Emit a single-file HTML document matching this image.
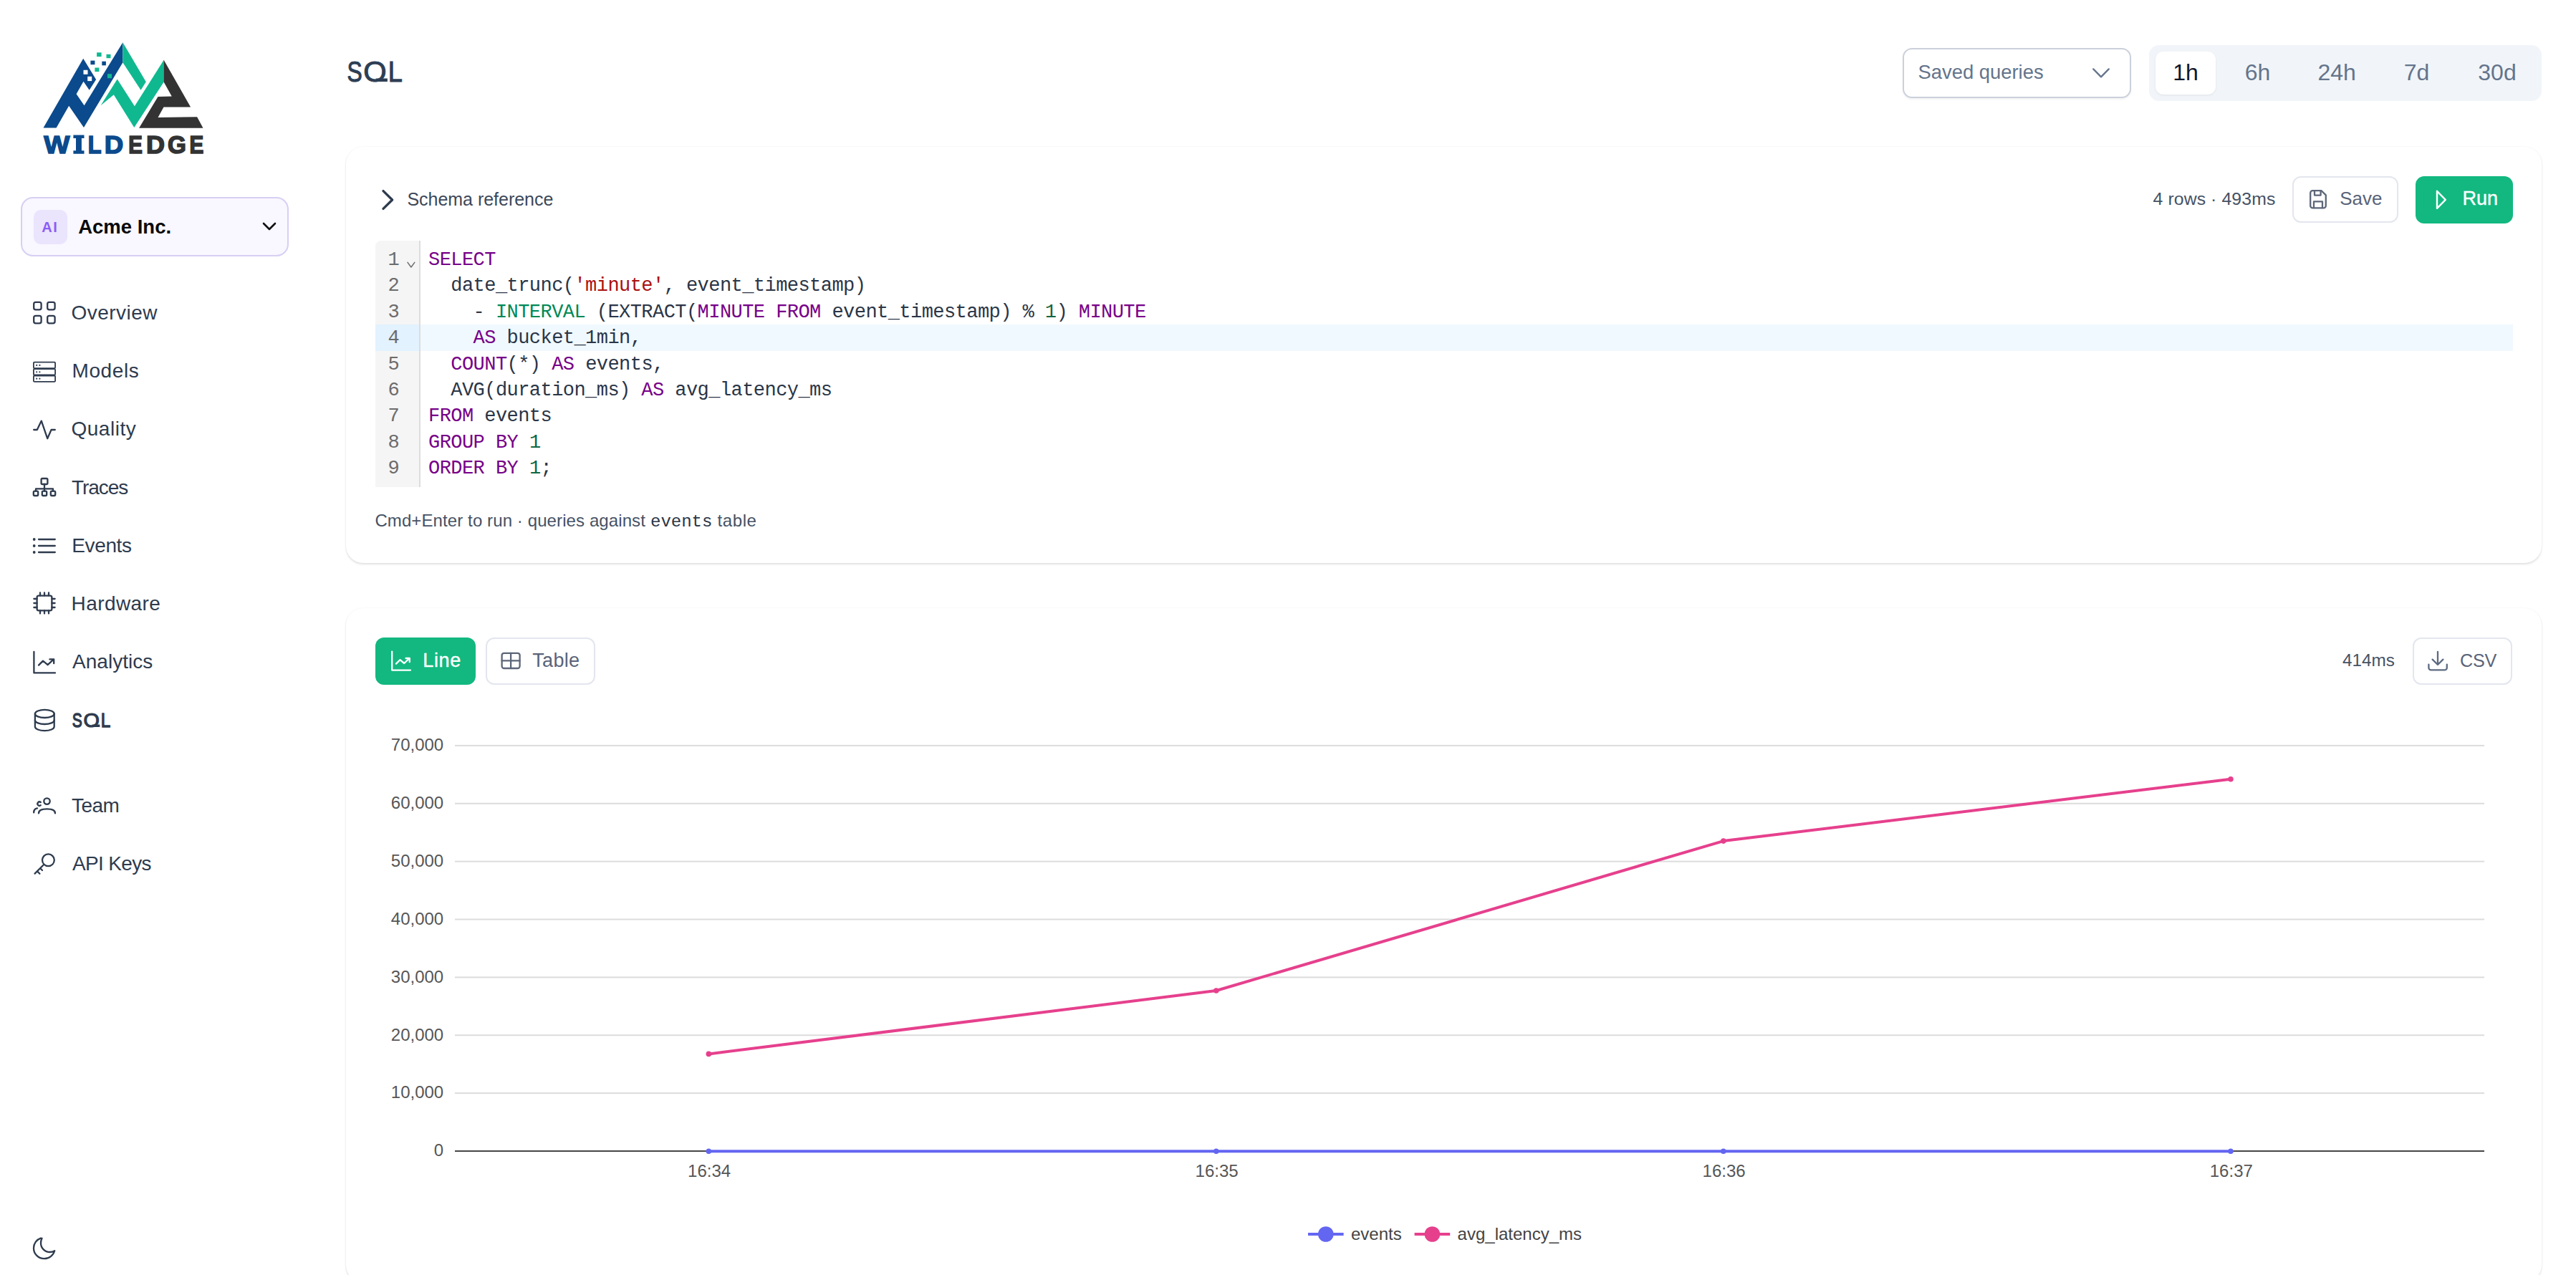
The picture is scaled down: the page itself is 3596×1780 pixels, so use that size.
<!DOCTYPE html>
<html><head><meta charset="utf-8"><title>SQL</title>
<style>
*{box-sizing:border-box;margin:0;padding:0}
html,body{width:3596px;height:1780px;overflow:hidden;background:#fff}
body{position:relative;font-family:"Liberation Sans",sans-serif;color:#334155}
.abs{position:absolute}
.t{position:absolute;white-space:nowrap;line-height:1}
.ic{position:absolute;fill:none;stroke:#2e3b4e;stroke-width:2.3;stroke-linecap:round;stroke-linejoin:round;overflow:visible}
.card{position:absolute;left:483px;width:3065px;background:#fff;border-radius:24px;box-shadow:0 2px 3px -0.5px rgba(0,0,0,0.11),0 0 2.5px rgba(0,0,0,0.05)}
.btn{position:absolute;border-radius:12px;border:2px solid #e3e6ee;background:#fff}
.mono{font-family:"Liberation Mono",monospace}
.k{color:#770088}.s{color:#aa1111}.n{color:#116644}.ty{color:#008855}
</style></head>
<body>
<svg class="abs" style="left:0;top:0" width="420" height="240" viewBox="0 0 420 240">
<polygon fill="#0b4a8c" points="60.5,178.5 116.2,81.8 134.1,110.9 124.7,125.8 116.5,113.7 106.6,131.2 117.6,147.2 171.4,59.3 171.4,87.3 117,177.9 96.2,147.7 78.6,178.5"/>
<polygon fill="#10b890" points="171.4,59.3 203.8,114.2 196.6,125.8 171.4,87.3"/>
<polygon fill="#10b890" points="140.6,147.2 163.7,110.4 187.9,148.3 228.5,84 228.5,114.8 187.3,177.9 158.8,132.3"/>
<polygon fill="#333333" points="228.5,83.6 266.1,149.5 228.5,149.5 220.5,164.1 275.1,163.2 283.5,178.7 194.1,178.7 220.5,134.9 239.8,134.5 228.5,114.2"/>
<rect fill="#fff" x="116.5" y="97.8" width="6" height="6"/>
<rect fill="#fff" x="122.2" y="106.8" width="6" height="6.3"/>
<rect fill="#0b4a8c" x="126.4" y="84.6" width="6" height="5.6"/>
<rect fill="#0b4a8c" x="142.3" y="85.7" width="5.6" height="5.6"/>
<rect fill="#10b890" x="135.1" y="73.3" width="6.5" height="5.8"/>
<rect fill="#10b890" x="148.5" y="75.8" width="6" height="5.4"/>
<rect fill="#10b890" x="132.4" y="94.5" width="6" height="5.6"/>
<rect fill="#10b890" x="150" y="103.2" width="6" height="6"/>
<g font-family="Liberation Sans" font-weight="bold" font-size="35.3" stroke-linejoin="miter"><text transform="translate(61.30,213.7) scale(1.085,1)" fill="#0b4a8c" stroke="#0b4a8c" stroke-width="1.6" vector-effect="non-scaling-stroke">W</text><text transform="translate(122.75,213.7) scale(0.871,1)" fill="#0b4a8c" stroke="#0b4a8c" stroke-width="1.6" vector-effect="non-scaling-stroke">L</text><text transform="translate(145.70,213.7) scale(1.039,1)" fill="#0b4a8c" stroke="#0b4a8c" stroke-width="1.6" vector-effect="non-scaling-stroke">D</text><text transform="translate(179.13,213.7) scale(0.835,1)" fill="#333333" stroke="#333333" stroke-width="1.6" vector-effect="non-scaling-stroke">E</text><text transform="translate(203.94,213.7) scale(1.021,1)" fill="#333333" stroke="#333333" stroke-width="1.6" vector-effect="non-scaling-stroke">D</text><text transform="translate(233.97,213.7) scale(0.942,1)" fill="#333333" stroke="#333333" stroke-width="1.6" vector-effect="non-scaling-stroke">G</text><text transform="translate(264.52,213.7) scale(0.840,1)" fill="#333333" stroke="#333333" stroke-width="1.6" vector-effect="non-scaling-stroke">E</text><path fill="#0b4a8c" d="M102.4 188.5H117.5V193.1H113.9V210.20000000000002H117.5V214.8H102.4V210.20000000000002H106.0V193.1H102.4Z"/></g>
</svg>
<div class="abs" style="left:28.6px;top:275.2px;width:374.8px;height:83.2px;border:2px solid #d7cff3;border-radius:17px;background:#f9f7ff"></div>
<div class="abs" style="left:46.8px;top:293px;width:47px;height:47.6px;border-radius:10px;background:#ebe4fd"></div>
<div class="t" style="top:306.80px;font-size:20px;left:58.20px;color:#8b5cf6;font-weight:bold;letter-spacing:1.7px;">AI</div>
<div class="t" style="top:302.75px;font-size:27.5px;left:109.20px;color:#0a0a0a;font-weight:bold;">Acme Inc.</div>
<svg class="abs" style="left:364px;top:305px" width="24" height="24" viewBox="0 0 24 24" fill="none" stroke="#111" stroke-width="2.6" stroke-linecap="round" stroke-linejoin="round"><path d="M4 7 L12 15 L20 7"/></svg>
<svg class="ic" style="left:0;top:0" width="420" height="1780" viewBox="0 0 420 1780"><rect x="47.2" y="421.9" width="10.4" height="10.4" rx="2.6"/><rect x="47.2" y="440.9" width="10.4" height="10.4" rx="2.6"/><rect x="66.2" y="421.9" width="10.4" height="10.4" rx="2.6"/><rect x="66.2" y="440.9" width="10.4" height="10.4" rx="2.6"/><rect x="46.9" y="505.7" width="30.2" height="8.4" rx="1.2" stroke-width="1.8"/><circle cx="51.2" cy="509.9" r="1.1" fill="#2e3b4e" stroke="none"/><circle cx="55.4" cy="509.9" r="1.1" fill="#2e3b4e" stroke="none"/><rect x="46.9" y="515.1" width="30.2" height="8.4" rx="1.2" stroke-width="1.8"/><circle cx="51.2" cy="519.3000000000001" r="1.1" fill="#2e3b4e" stroke="none"/><circle cx="55.4" cy="519.3000000000001" r="1.1" fill="#2e3b4e" stroke="none"/><rect x="46.9" y="524.5" width="30.2" height="8.4" rx="1.2" stroke-width="1.8"/><circle cx="51.2" cy="528.7" r="1.1" fill="#2e3b4e" stroke="none"/><circle cx="55.4" cy="528.7" r="1.1" fill="#2e3b4e" stroke="none"/><path d="M47.2 600 H51.8 L57.8 587.6 L66.2 612.2 L71.6 600 H76.8"/><rect x="57.6" y="668" width="8.8" height="8" rx="1.6"/><path d="M62 676V685.6M50 685.6V682.4H74V685.6"/><rect x="46.8" y="685.6" width="6.4" height="6.4" rx="1.6"/><rect x="58.8" y="685.6" width="6.4" height="6.4" rx="1.6"/><rect x="70.8" y="685.6" width="6.4" height="6.4" rx="1.6"/><circle cx="47.7" cy="753" r="1.9" fill="#2e3b4e" stroke="none"/><path d="M54 753H76.8"/><circle cx="47.7" cy="762" r="1.9" fill="#2e3b4e" stroke="none"/><path d="M54 762H76.8"/><circle cx="47.7" cy="771" r="1.9" fill="#2e3b4e" stroke="none"/><path d="M54 771H76.8"/><rect x="51.6" y="831.6" width="20.8" height="20.8" rx="2.4"/><path d="M56 831.6V827.4M56 852.4V856.6"/><path d="M62 831.6V827.4M62 852.4V856.6"/><path d="M68 831.6V827.4M68 852.4V856.6"/><path d="M51.6 836H47.4M72.4 836H76.6"/><path d="M51.6 842H47.4M72.4 842H76.6"/><path d="M51.6 848H47.4M72.4 848H76.6"/><path d="M47.4 909.8V939.4H77"/><path d="M54 928.6L60 922.6L66.6 928.2L75 920.4M69.4 920.4H75.2V926.2"/><ellipse cx="62.3" cy="996.4" rx="13.4" ry="5.6"/><path d="M48.9 996.4V1014.6C48.9 1017.7 54.9 1020.2 62.3 1020.2S75.7 1017.7 75.7 1014.6V996.4"/><path d="M48.9 1005.4C48.9 1008.5 54.9 1011 62.3 1011S75.7 1008.5 75.7 1005.4"/><circle cx="65.5" cy="1118.6" r="4.2"/><path d="M54 1135.4C54 1131.4 58 1129.4 65.6 1129.4S77 1131.4 77 1135.4"/><path d="M56.8 1120A2.7 2.7 0 1 0 56.8 1124.2"/><path d="M47.2 1134.4C47.2 1131 49 1128.8 52 1128.4"/><circle cx="67.4" cy="1200.8" r="8.4"/><path d="M61.2 1207L48.6 1219.6M56.2 1212.2L59 1215M52 1216.4L55.4 1219.8"/><path d="M56.8 1728.6C51 1730.6 47 1736 47 1742.4C47 1750.6 53.6 1757.2 61.8 1757.2C68.6 1757.2 74.4 1752.6 76.2 1746.2C74.2 1747.4 72 1748 69.6 1748C62.6 1748 57 1742.4 57 1735.4C57 1733 57.6 1730.6 58.6 1728.8Z"/></svg>
<div class="t" style="top:422.50px;font-size:28px;left:99.60px;color:#2e3b4e;letter-spacing:0.44px;">Overview</div>
<div class="t" style="top:503.80px;font-size:28px;left:100.50px;color:#2e3b4e;letter-spacing:0.6px;">Models</div>
<div class="t" style="top:585.10px;font-size:28px;left:99.40px;color:#2e3b4e;letter-spacing:0.55px;">Quality</div>
<div class="t" style="top:666.50px;font-size:28px;left:100.10px;color:#2e3b4e;letter-spacing:-1.1px;">Traces</div>
<div class="t" style="top:747.80px;font-size:28px;left:100.30px;color:#2e3b4e;letter-spacing:-0.38px;">Events</div>
<div class="t" style="top:829.10px;font-size:28px;left:99.50px;color:#2e3b4e;letter-spacing:0.43px;">Hardware</div>
<div class="t" style="top:910.40px;font-size:28px;left:101.00px;color:#2e3b4e;letter-spacing:0.03px;">Analytics</div>
<div class="t" style="top:1110.50px;font-size:28px;left:100.00px;color:#2e3b4e;letter-spacing:-0.55px;">Team</div>
<div class="t" style="top:1191.80px;font-size:28px;left:101.00px;color:#2e3b4e;letter-spacing:-0.65px;">API Keys</div>
<svg class="abs" style="left:0;top:960px" width="300" height="100" viewBox="0 960 300 100"><g font-family="Liberation Sans" font-size="27.8"><text transform="translate(100.75,1014.5) scale(0.757,1)" fill="#2e3b4e" stroke="#2e3b4e" stroke-width="1.2" vector-effect="non-scaling-stroke">S</text><text transform="translate(116.41,1014.5) scale(1.035,1)" fill="#2e3b4e" stroke="#2e3b4e" stroke-width="1.2" vector-effect="non-scaling-stroke">O</text><text transform="translate(140.86,1014.5) scale(0.873,1)" fill="#2e3b4e" stroke="#2e3b4e" stroke-width="1.2" vector-effect="non-scaling-stroke">L</text><path d="M128.4 1011.6 H139.4 V1015 H130.6 Z" fill="#2e3b4e"/></g></svg>
<svg class="abs" style="left:0;top:0" width="700" height="160" viewBox="0 0 700 160"><g font-family="Liberation Sans" font-size="40.6"><text transform="translate(484.47,113.5) scale(0.781,1)" fill="#2d3e54" stroke="#2d3e54" stroke-width="1.0" vector-effect="non-scaling-stroke">S</text><text transform="translate(507.23,113.5) scale(1.025,1)" fill="#2d3e54" stroke="#2d3e54" stroke-width="1.0" vector-effect="non-scaling-stroke">O</text><text transform="translate(541.81,113.5) scale(0.891,1)" fill="#2d3e54" stroke="#2d3e54" stroke-width="1.0" vector-effect="non-scaling-stroke">L</text><path d="M524.5 109.6 H540.9 V113.9 H528 Z" fill="#2d3e54"/></g></svg>
<div class="abs" style="left:2655.5px;top:67px;width:319px;height:69.6px;border:2px solid #cbd1db;border-radius:13px;background:#fff;box-shadow:0 2px 3px rgba(15,23,42,0.05)"></div>
<div class="t" style="top:87.40px;font-size:27.4px;left:2677.50px;color:#64748b;">Saved queries</div>
<svg class="abs" style="left:2915px;top:88px;overflow:visible" width="36" height="28" viewBox="0 0 36 28" fill="none" stroke="#64748b" stroke-width="2.3" stroke-linecap="round" stroke-linejoin="round"><path d="M7.2 8.4 L18 19.4 L28.8 8.4"/></svg>
<div class="abs" style="left:2999.5px;top:62.5px;width:548px;height:78.6px;border-radius:14px;background:#f1f5f9"></div>
<div class="abs" style="left:3009px;top:72px;width:84px;height:60px;border-radius:11px;background:#fff;box-shadow:0 1px 3px rgba(15,23,42,0.08)"></div>
<div class="t" style="top:84.60px;font-size:32px;left:2951.00px;color:#0f172a;width:200px;text-align:center;">1h</div>
<div class="t" style="top:84.60px;font-size:32px;left:3051.60px;color:#64748b;width:200px;text-align:center;">6h</div>
<div class="t" style="top:84.60px;font-size:32px;left:3162.10px;color:#64748b;width:200px;text-align:center;">24h</div>
<div class="t" style="top:84.60px;font-size:32px;left:3273.50px;color:#64748b;width:200px;text-align:center;">7d</div>
<div class="t" style="top:84.60px;font-size:32px;left:3386.00px;color:#64748b;width:200px;text-align:center;">30d</div>
<div class="card" style="top:205px;height:581px"></div>
<svg class="abs" style="left:524px;top:258px;overflow:visible" width="36" height="42" viewBox="0 0 36 42" fill="none" stroke="#2e3b4e" stroke-width="3.4" stroke-linecap="round" stroke-linejoin="round"><path d="M11 8.6 L23.6 21 L11 33.4"/></svg>
<div class="t" style="top:266.10px;font-size:25px;left:568.40px;color:#3d4859;letter-spacing:-0.02px;">Schema reference</div>
<div class="t" style="top:266.30px;font-size:24.8px;right:419.60px;color:#465265;letter-spacing:0.1px;">4 rows · 493ms</div>
<div class="btn" style="left:3200.3px;top:246.2px;width:147.4px;height:65.2px"></div>
<svg class="abs" style="left:3220px;top:262px;overflow:visible" width="32" height="32" viewBox="0 0 32 32" fill="none" stroke="#5d6679" stroke-width="2.3" stroke-linecap="round" stroke-linejoin="round"><path d="M8.4 4.2H20.6L26.8 10.4V25.2A3.2 3.2 0 0 1 23.6 28.4H8.4A3.2 3.2 0 0 1 5.2 25.2V7.4A3.2 3.2 0 0 1 8.4 4.2Z"/><path d="M11 4.6V10.6H19.6V4.6"/><path d="M10 28V19.4H22V28"/></svg>
<div class="t" style="top:264.30px;font-size:26px;left:3266.20px;color:#5a6478;">Save</div>
<div class="abs" style="left:3371.8px;top:245.8px;width:136.4px;height:65.8px;border-radius:12px;background:#12b880"></div>
<svg class="abs" style="left:3392px;top:262px;overflow:visible" width="32" height="32" viewBox="0 0 32 32" fill="none" stroke="#fff" stroke-width="2.4" stroke-linecap="round" stroke-linejoin="round"><path d="M10 4.8 L21.8 16.8 L10 28.8 Z"/></svg>
<div class="t" style="top:263.80px;font-size:27px;left:3437.40px;color:#fff;-webkit-text-stroke:0.4px #fff;">Run</div>
<div class="abs" style="left:524.4px;top:336px;width:60.6px;height:343.6px;background:#f5f5f5;border-top-left-radius:8px"></div>
<div class="abs" style="left:585px;top:336px;width:1.6px;height:343.6px;background:#dddddd"></div>
<div class="abs" style="left:586.6px;top:453.2px;width:2921.4px;height:36.4px;background:#f0f9ff"></div>
<div class="abs" style="left:524.4px;top:453.2px;width:60.6px;height:36.4px;background:#e2f2ff"></div>
<div class="t mono" style="top:350.00px;font-size:27px;left:598.00px;color:#2b3647;letter-spacing:-0.553px;white-space:pre;"><span class="k">SELECT</span></div>
<div class="t mono" style="top:350.00px;font-size:27px;right:3038.40px;color:#6c6c6c;">1</div>
<div class="t mono" style="top:386.40px;font-size:27px;left:598.00px;color:#2b3647;letter-spacing:-0.553px;white-space:pre;">  date_trunc(<span class="s">'minute'</span>, event_timestamp)</div>
<div class="t mono" style="top:386.40px;font-size:27px;right:3038.40px;color:#6c6c6c;">2</div>
<div class="t mono" style="top:422.80px;font-size:27px;left:598.00px;color:#2b3647;letter-spacing:-0.553px;white-space:pre;">    - <span class="ty">INTERVAL</span> (EXTRACT(<span class="k">MINUTE</span> <span class="k">FROM</span> event_timestamp) % <span class="n">1</span>) <span class="k">MINUTE</span></div>
<div class="t mono" style="top:422.80px;font-size:27px;right:3038.40px;color:#6c6c6c;">3</div>
<div class="t mono" style="top:459.20px;font-size:27px;left:598.00px;color:#2b3647;letter-spacing:-0.553px;white-space:pre;">    <span class="k">AS</span> bucket_1min,</div>
<div class="t mono" style="top:459.20px;font-size:27px;right:3038.40px;color:#6c6c6c;">4</div>
<div class="t mono" style="top:495.60px;font-size:27px;left:598.00px;color:#2b3647;letter-spacing:-0.553px;white-space:pre;">  <span class="k">COUNT</span>(*) <span class="k">AS</span> events,</div>
<div class="t mono" style="top:495.60px;font-size:27px;right:3038.40px;color:#6c6c6c;">5</div>
<div class="t mono" style="top:532.00px;font-size:27px;left:598.00px;color:#2b3647;letter-spacing:-0.553px;white-space:pre;">  AVG(duration_ms) <span class="k">AS</span> avg_latency_ms</div>
<div class="t mono" style="top:532.00px;font-size:27px;right:3038.40px;color:#6c6c6c;">6</div>
<div class="t mono" style="top:568.40px;font-size:27px;left:598.00px;color:#2b3647;letter-spacing:-0.553px;white-space:pre;"><span class="k">FROM</span> events</div>
<div class="t mono" style="top:568.40px;font-size:27px;right:3038.40px;color:#6c6c6c;">7</div>
<div class="t mono" style="top:604.80px;font-size:27px;left:598.00px;color:#2b3647;letter-spacing:-0.553px;white-space:pre;"><span class="k">GROUP</span> <span class="k">BY</span> <span class="n">1</span></div>
<div class="t mono" style="top:604.80px;font-size:27px;right:3038.40px;color:#6c6c6c;">8</div>
<div class="t mono" style="top:641.20px;font-size:27px;left:598.00px;color:#2b3647;letter-spacing:-0.553px;white-space:pre;"><span class="k">ORDER</span> <span class="k">BY</span> <span class="n">1</span>;</div>
<div class="t mono" style="top:641.20px;font-size:27px;right:3038.40px;color:#6c6c6c;">9</div>
<svg class="abs" style="left:566px;top:362px;overflow:visible" width="16" height="14" viewBox="0 0 16 14" fill="none" stroke="#6c6c6c" stroke-width="1.5" stroke-linecap="round" stroke-linejoin="round"><path d="M3 4.4 L7.9 11 L12.8 4.4"/></svg>
<div class="t" style="top:714.50px;font-size:24px;left:523.40px;color:#465265;letter-spacing:0.1px;">Cmd+Enter to run · queries against</div>
<div class="t mono" style="top:716.50px;font-size:24px;left:908.00px;color:#2b3647;">events</div>
<div class="t" style="top:714.50px;font-size:24px;left:1001.50px;color:#465265;letter-spacing:0.6px;">table</div>
<div class="card" style="top:848.5px;height:941.5px"></div>
<div class="abs" style="left:524.1px;top:890.2px;width:139.7px;height:65.6px;border-radius:12px;background:#12b880"></div>
<svg class="abs" style="left:544px;top:906px;overflow:visible" width="32" height="32" viewBox="0 0 32 32" fill="none" stroke="#fff" stroke-width="2.3" stroke-linecap="round" stroke-linejoin="round"><path d="M3.2 3.6V29.6H29"/><path d="M9 20.6L14.4 15.2L20.2 20L27.6 13M22.6 13H27.8V18.2"/></svg>
<div class="t" style="top:909.40px;font-size:27px;left:590.20px;color:#fff;letter-spacing:0.7px;-webkit-text-stroke:0.4px #fff;">Line</div>
<div class="btn" style="left:677.8px;top:890.2px;width:153.7px;height:65.6px"></div>
<svg class="abs" style="left:697px;top:906px;overflow:visible" width="32" height="32" viewBox="0 0 32 32" fill="none" stroke="#5d6679" stroke-width="2.3" stroke-linecap="round" stroke-linejoin="round"><rect x="3.6" y="5.8" width="25" height="21.2" rx="3"/><path d="M16.1 5.8V27M3.6 16.4H28.6"/></svg>
<div class="t" style="top:909.40px;font-size:27px;left:743.20px;color:#5a6478;letter-spacing:0.35px;">Table</div>
<div class="t" style="top:910.15px;font-size:24.3px;right:253.00px;color:#465265;">414ms</div>
<div class="btn" style="left:3367.6px;top:890.2px;width:139.9px;height:65.6px"></div>
<svg class="abs" style="left:3387px;top:906px;overflow:visible" width="32" height="32" viewBox="0 0 32 32" fill="none" stroke="#5d6b80" stroke-width="2.3" stroke-linecap="round" stroke-linejoin="round"><path d="M16 3.8V21.8M8.6 14.6L16 22L23.4 14.6"/><path d="M3.4 21.6V26.2A3.2 3.2 0 0 0 6.6 29.4H25.6A3.2 3.2 0 0 0 28.8 26.2V21.6"/></svg>
<div class="t" style="top:909.80px;font-size:25.2px;left:3434.00px;color:#5a6478;letter-spacing:-0.3px;">CSV</div>
<svg class="abs" style="left:0;top:0" width="3596" height="1780" viewBox="0 0 3596 1780"><rect x="635" y="1525.13" width="2833" height="2" fill="#dcdcdc"/><rect x="635" y="1444.26" width="2833" height="2" fill="#dcdcdc"/><rect x="635" y="1363.39" width="2833" height="2" fill="#dcdcdc"/><rect x="635" y="1282.52" width="2833" height="2" fill="#dcdcdc"/><rect x="635" y="1201.65" width="2833" height="2" fill="#dcdcdc"/><rect x="635" y="1120.78" width="2833" height="2" fill="#dcdcdc"/><rect x="635" y="1039.91" width="2833" height="2" fill="#dcdcdc"/><rect x="635" y="1606.00" width="2833" height="2" fill="#474747"/><polyline fill="none" stroke="#6366f1" stroke-width="4" stroke-linejoin="bevel" points="989.3,1607.3 1697.8,1607.3 2405.8,1607.3 3114,1607.3"/><circle cx="989.3" cy="1607.3" r="3.8" fill="#6366f1"/><circle cx="1697.8" cy="1607.3" r="3.8" fill="#6366f1"/><circle cx="2405.8" cy="1607.3" r="3.8" fill="#6366f1"/><circle cx="3114" cy="1607.3" r="3.8" fill="#6366f1"/><polyline fill="none" stroke="#e6408d" stroke-width="4" stroke-linejoin="bevel" points="989.3,1471.4 1697.8,1383 2405.8,1174.1 3114,1087.8"/><circle cx="989.3" cy="1471.4" r="3.8" fill="#e6408d"/><circle cx="1697.8" cy="1383" r="3.8" fill="#e6408d"/><circle cx="2405.8" cy="1174.1" r="3.8" fill="#e6408d"/><circle cx="3114" cy="1087.8" r="3.8" fill="#e6408d"/><rect x="1826" y="1721" width="49.6" height="4" fill="#6366f1"/><circle cx="1850.8" cy="1723" r="10.8" fill="#6366f1"/><rect x="1974.6" y="1721" width="49.6" height="4" fill="#e6408d"/><circle cx="1999.4" cy="1723" r="10.8" fill="#e6408d"/></svg>
<div class="t" style="top:1594.30px;font-size:24px;right:2976.80px;color:#565656;">0</div>
<div class="t" style="top:1513.43px;font-size:24px;right:2976.80px;color:#565656;">10,000</div>
<div class="t" style="top:1432.56px;font-size:24px;right:2976.80px;color:#565656;">20,000</div>
<div class="t" style="top:1351.69px;font-size:24px;right:2976.80px;color:#565656;">30,000</div>
<div class="t" style="top:1270.82px;font-size:24px;right:2976.80px;color:#565656;">40,000</div>
<div class="t" style="top:1189.95px;font-size:24px;right:2976.80px;color:#565656;">50,000</div>
<div class="t" style="top:1109.08px;font-size:24px;right:2976.80px;color:#565656;">60,000</div>
<div class="t" style="top:1028.21px;font-size:24px;right:2976.80px;color:#565656;">70,000</div>
<div class="t" style="top:1622.50px;font-size:24px;left:890.10px;color:#565656;width:200px;text-align:center;">16:34</div>
<div class="t" style="top:1622.50px;font-size:24px;left:1598.60px;color:#565656;width:200px;text-align:center;">16:35</div>
<div class="t" style="top:1622.50px;font-size:24px;left:2306.60px;color:#565656;width:200px;text-align:center;">16:36</div>
<div class="t" style="top:1622.50px;font-size:24px;left:3014.80px;color:#565656;width:200px;text-align:center;">16:37</div>
<div class="t" style="top:1710.50px;font-size:24px;left:1886.00px;color:#444;">events</div>
<div class="t" style="top:1710.50px;font-size:24px;left:2034.60px;color:#444;">avg_latency_ms</div>
</body></html>
